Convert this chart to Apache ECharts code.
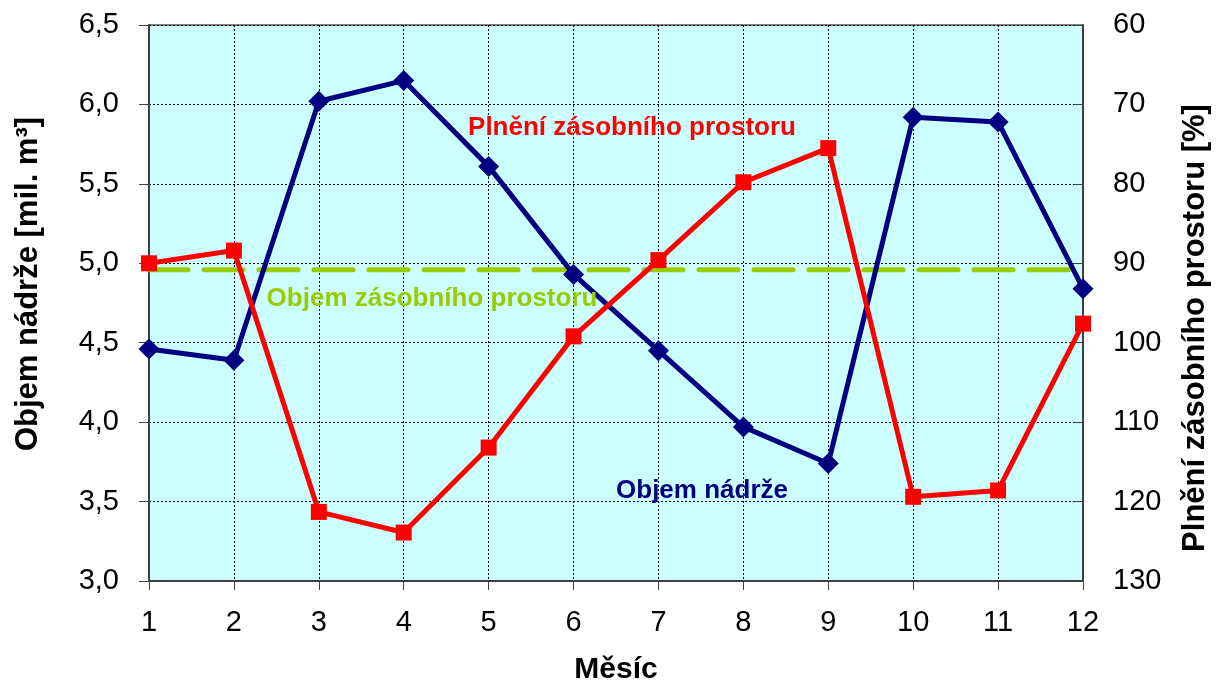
<!DOCTYPE html>
<html>
<head>
<meta charset="utf-8">
<script src="https://cdn.jsdelivr.net/npm/echarts@6/dist/echarts.min.js"></script>
<style>
  html, body { margin: 0; padding: 0; background: #ffffff; }
  #chart { width: 1219px; height: 690px; }
</style>
</head>
<body>
<div id="chart"></div>
<script>
// Months of the year
const months = ['1', '2', '3', '4', '5', '6', '7', '8', '9', '10', '11', '12'];
// Reservoir volume [mil. m3]
const reservoirVolume = [4.46, 4.39, 6.02, 6.15, 5.61, 4.93, 4.45, 3.97, 3.74, 5.92, 5.89, 4.84];
// Storage space filling [%]
const storageFilling = [90.0, 88.4, 121.3, 123.9, 113.2, 99.2, 89.6, 79.8, 75.5, 119.4, 118.6, 97.6];
// Storage space volume [mil. m3] (constant level)
const storageVolume = [4.96, 4.96, 4.96, 4.96, 4.96, 4.96, 4.96, 4.96, 4.96, 4.96, 4.96, 4.96];

const FONT = '"Liberation Sans", Arial, sans-serif';

const chart = echarts.init(document.getElementById('chart'), null, { renderer: 'canvas' });

chart.setOption({
  animation: false,
  backgroundColor: '#ffffff',
  textStyle: { fontFamily: FONT },
  grid: {
    left: 149, right: 134, top: 25, bottom: 104,
    show: true,
    backgroundColor: '#ccffff',
    borderColor: '#808080',
    borderWidth: 2
  },
  xAxis: {
    type: 'category',
    data: months,
    boundaryGap: false,
    name: 'Měsíc',
    nameLocation: 'middle',
    nameGap: 74,
    nameTextStyle: { fontFamily: FONT, fontSize: 30, fontWeight: 'bold', color: '#000000' },
    axisLine: { show: true, lineStyle: { color: '#404040', width: 2 } },
    axisTick: { show: true, alignWithLabel: true, length: 9, lineStyle: { color: '#404040', width: 1 } },
    axisLabel: { fontFamily: FONT, fontSize: 29, color: '#000000', margin: 27 },
    splitLine: { show: true, lineStyle: { color: '#000000', type: [2, 2], width: 1 } }
  },
  yAxis: [
    {
      type: 'value',
      position: 'left',
      min: 3.0, max: 6.5, interval: 0.5,
      name: 'Objem nádrže [mil. m³]',
      nameLocation: 'middle',
      nameGap: 105,
      nameTextStyle: {
        fontFamily: FONT, fontSize: 31, fontWeight: 'bold', color: '#000000',
        padding: [0, 0, 0, 38]
      },
      axisLine: { show: true, lineStyle: { color: '#404040', width: 2 } },
      axisTick: { show: true, length: 10, lineStyle: { color: '#404040', width: 1 } },
      axisLabel: {
        fontFamily: FONT, fontSize: 29, color: '#000000', margin: 30,
        formatter: v => v.toFixed(1).replace('.', ',')
      },
      splitLine: { show: true, lineStyle: { color: '#000000', type: [2, 2], width: 1 } }
    },
    {
      type: 'value',
      position: 'right',
      inverse: true,
      min: 60, max: 130, interval: 10,
      name: 'Plnění zásobního prostoru [%]',
      nameLocation: 'middle',
      nameGap: 97,
      nameRotate: 90,
      nameTextStyle: {
        fontFamily: FONT, fontSize: 31, fontWeight: 'bold', color: '#000000',
        padding: [0, 50, 0, 0]
      },
      axisLine: { show: true, lineStyle: { color: '#404040', width: 2 } },
      axisTick: { show: true, inside: true, length: 9, lineStyle: { color: '#404040', width: 1 } },
      axisLabel: { fontFamily: FONT, fontSize: 29, color: '#000000', margin: 30 },
      splitLine: { show: false }
    }
  ],
  series: [
    {
      name: 'Objem zásobního prostoru',
      type: 'line',
      yAxisIndex: 0,
      data: storageVolume,
      symbol: 'none',
      z: 2,
      lineStyle: { color: '#99cc00', width: 5, type: [39, 16], cap: 'round' }
    },
    {
      name: 'Objem nádrže',
      type: 'line',
      yAxisIndex: 0,
      data: reservoirVolume,
      symbol: 'diamond',
      symbolSize: 21,
      z: 3,
      lineStyle: { color: '#000080', width: 5 },
      itemStyle: { color: '#000080' }
    },
    {
      name: 'Plnění zásobního prostoru',
      type: 'line',
      yAxisIndex: 1,
      data: storageFilling,
      symbol: 'rect',
      symbolSize: 16,
      z: 4,
      lineStyle: { color: '#ff0000', width: 5 },
      itemStyle: { color: '#ff0000' }
    }
  ],
  graphic: [
    {
      type: 'text', x: 632, y: 128, z: 10,
      style: {
        text: 'Plnění zásobního prostoru', fill: '#ff0000',
        font: 'bold 26px ' + FONT, align: 'center', verticalAlign: 'middle'
      }
    },
    {
      type: 'text', x: 432, y: 299, z: 10,
      style: {
        text: 'Objem zásobního prostoru', fill: '#99cc00',
        font: 'bold 26px ' + FONT, align: 'center', verticalAlign: 'middle'
      }
    },
    {
      type: 'text', x: 702, y: 491, z: 10,
      style: {
        text: 'Objem nádrže', fill: '#000080',
        font: 'bold 26px ' + FONT, align: 'center', verticalAlign: 'middle'
      }
    }
  ]
});
</script>
</body>
</html>
